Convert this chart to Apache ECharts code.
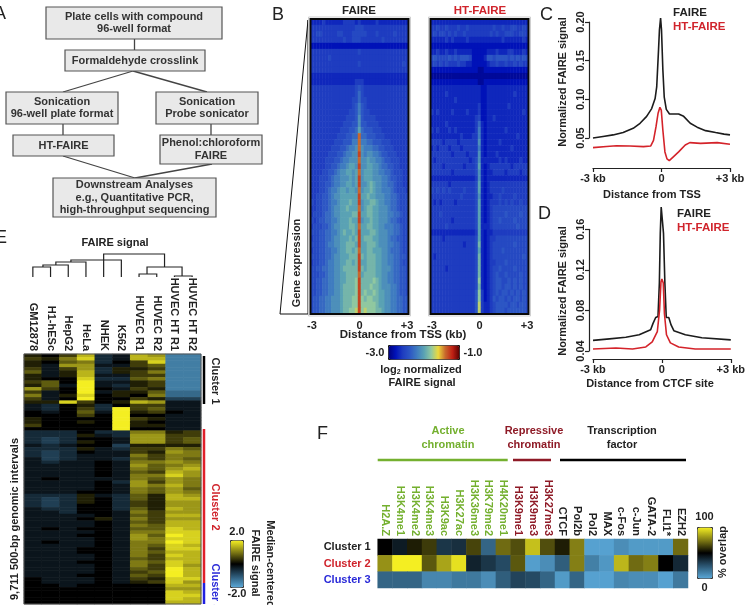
<!DOCTYPE html>
<html>
<head>
<meta charset="utf-8">
<title>FAIRE and HT-FAIRE signal</title>
<style>html,body{margin:0;padding:0;background:#fff;overflow:hidden}#chart{width:748px;height:605px}</style>
<script src="https://cdn.jsdelivr.net/npm/echarts@6/dist/echarts.min.js"></script>
</head>
<body>
<div id="chart"></div>
<script>
// Protocol flow steps
const flowSteps = [
  ['Plate cells with compound', '96-well format'],
  ['Formaldehyde crosslink'],
  ['Sonication', '96-well plate format'],
  ['Sonication', 'Probe sonicator'],
  ['HT-FAIRE'],
  ['Phenol:chloroform', 'FAIRE'],
  ['Downstream Analyses', 'e.g., Quantitative PCR,', 'high-throughput sequencing']
];

// Panel B: signal per gene row (most to least silent) and distance bin; 0..k = -3.0..-1.0 in 0.1 steps
const faireRows = [
  '3333433333344443 4 3333343333333333','4444444444444445 5 5444444444444444','4455444445544455 5 5544454444454444',
  '4444444444454455 5 4444444544444444','2222222222222222 2 2222222222222222','4444444444444444 5 4444444444444444',
  '4444445444444444 4 4444444444444444','4444444444444444 5 4444444444444454','4444444444444444 4 4444444444444444',
  '3333333333333333 3 3333333333333333','3333333333333334 4 4333333333333333','4444444444444445 6 5444444444444444',
  '4444444444444445 7 5444444444444444','4444444444444455 7 5544444444444444','4444444444444456 8 6544444444444444',
  '4444444444444556 8 6554444444444444','4444444444445556 9 6555544444444444','4444444444455566 9 6655554444444444',
  '4444444444555667 a 7666555444444444','4444444445556677 g 7766655544444444','4444444455566688 g 8877666555444444',
  '4444444555667889 g 9888776655544444','4444445556678899 h 9899887665554444','4444455566788999 g 99a9988766555444',
  '4444455667889aa9 h 99aa998776655444','444455667899aa9a g 9aaa998877655544','4445556788999a9a h 9aaa999887665544',
  '444556678899aa9a h 99aba99887765544','4445567889aa9aa9 g 9aaba99888765554','4455667899aaaaaa h aabaa99988776555',
  '5455667889aaabaa h 9aabba9988776555','4455667899aabaaa g 9abbaa9998776555','4555677899aaaabb h aabbaa9998877655',
  '5456677889aaabaa h 9aabaa9998776555','4555667899aaabba g aabbaa9988877655','5556677889abaaba h aaabba9998877655',
  '4556677899aaabab h abbbaa9998776655','5556678899aabbba h aabbba9998877655','4556677889aabbab g aabbaaa998777655',
  '5556677899aaabbb h babbbaa998877665','4556678899aabbab h aabbbaa998877655','5566778899abbbbb h babbbaa999877665',
  '5556678899aabbbb g abbbbaa998877665','5566778899aabbbc h bbbbcba998877665','5566778899abbbbc h bbbcbba999887665',
  '5566778899abbbbc h bcbbcbaa99887665','5667788999abbbcc h cbccbbaa99887766','5667788999abbbcc h cccccbaa99887766',
  '5667788999abbccd h cdcccbba99887766'
];
const htFaireRows = [
  '3333333333333333 3 3333333333333333','4454454445445444 4 4444544544554454','4545545454454444 4 4445454455544554',
  '3333343433334333 3 3333333433333343','2222222222222222 2 2222222222222222','3343343343333322 2 2233343334433343',
  '5655556565666522 2 2366566665656565','4545454445443322 2 2234454454454544','2222222222222222 1 1222222222222222',
  '1111111111111111 1 1111111111111111','2222222222222222 1 1222222222222222','3333333333333333 3 2233333333333333',
  '3333343333333333 3 2233333333343333','3333333343333333 3 2233333333333333','3333333333333333 4 2233333334333333',
  '4343333433334333 4 2233333333333343','3333333333333334 5 2233433333333333','3333343333333334 7 3233333333333333',
  '4343334343333334 8 3233333343333333','3333333333433344 8 3233333333334333','4444344443444444 9 3233334333333333',
  '3434443444344444 8 3233333333433333','4444444344443444 9 3233343333333333','4344444444444345 9 3333334343333433',
  '4444344444434445 a 3234444444344444','4444444344444445 9 3233444434444344','3333333333333334 9 3233333333333333',
  '4444443444444445 a 3234444444444444','5454545444454445 a 3234444544444444','4444444444544445 9 3233445444454444',
  '4343444434444445 a 3234445454544544','4444444444444445 a 3234555555555555','4445444444444445 a 3234555565555655',
  '4444444344444445 a 3234556555565555','4444454444444445 a 3334555555556555','3333333333333334 a 3233444444444444',
  '4444344444444445 a 3234455555555555','4444444444434445 b 3234555555565555','4444444444444445 a 3234555655555555',
  '4344444444444445 b 3234555555555565','4444444444444445 b 3234455565555555','4444434444444445 b 3234556555565555',
  '4444444444444445 b 3234565565555655','4444444444444445 c 3234566556565655','4444444444444445 b 3234566566565655',
  '4444444444444446 c 4234565665656565','4444444444444446 c 4234656656566565','4444444444444446 d 4334566665665665',
  '4444444444444446 d 4334566656666665'
];

// Panels C and D: [distance in kb, normalized signal]
const tssFaire = [[-3,.050],[-2.56,.052],[-2.12,.054],[-1.68,.057],[-1.24,.0625],[-.94,.069],[-.65,.078],[-.43,.088],[-.28,.101],[-.21,.116],[-.13,.164],[-.09,.19],[-.04,.205],[0,.19],[.06,.138],[.12,.103],[.21,.087],[.35,.081],[.53,.081],[.75,.081],[.97,.078],[1.26,.069],[1.56,.064],[1.93,.0595],[2.37,.057],[2.74,.055],[3,.054]];
const tssHtFaire = [[-3,.0375],[-2.41,.039],[-1.97,.04],[-1.38,.0397],[-.79,.0388],[-.47,.0397],[-.35,.047],[-.24,.0647],[-.15,.082],[-.07,.0897],[-.01,.086],[.06,.06],[.15,.032],[.24,.023],[.34,.0207],[.53,.026],[.75,.032],[1.04,.041],[1.24,.044],[1.71,.043],[2.44,.044],[3,.042]];
const ctcfFaire = [[-3,.0505],[-2.28,.052],[-1.57,.0535],[-.99,.056],[-.49,.061],[-.39,.067],[-.27,.073],[-.17,.074],[-.11,.107],[-.07,.156],[-.03,.182],[.02,.182],[.07,.156],[.13,.107],[.19,.073],[.3,.073],[.4,.0657],[.52,.06],[1.02,.056],[1.74,.053],[3,.051]];
const ctcfHtFaire = [[-3,.042],[-2,.043],[-1.28,.042],[-.7,.044],[-.42,.049],[-.2,.059],[-.1,.0805],[-.04,.108],[0,.111],[.06,.107],[.11,.077],[.2,.056],[.37,.048],[.73,.044],[1.45,.042],[3,.042]];

// Panel E: median-centered signal per interval; 0..g = -2.0..+2.0 in 0.25 steps, 8 is zero
const sampleNames = ['GM12878','H1-hESc','HepG2','HeLa','NHEK','K562','HUVEC R1','HUVEC R2','HUVEC HT R1','HUVEC HT R2'];
const intervalRows = [
  '98ae67ed22','a9cf67ee22','98bc68af22','97dd77ab22','a7ad699a22','b79e69ac22','979e77aa22','988f66bc22','ab8g779a22','9b7g769a22',
  'da8g87a922','a78g799b33','c79f898c33','a78g88a955','99fa89ed77','768968aa77','768a6gab77','878b7g9a87','888a8g8877','98888ga977',
  '98898g9877','a8888g9977','88888g8877','666866cc9a','666976ddaa','656887ddab','656987ddab','767885 9999','666976aacb','656877a9dc',
  '656777cacc','756776bacb','767787ccdc','777787dbcd','777787cbde','777787baed','777787ccfd','787777cbdc','777786dadc','777787dcec',
  '777787cbdb','777887cbdc','666976b9ed','656986b9ee','656986a9dd','656886a9dd','766886b9ed','776887cadd','777787baee','777897cadd',
  '777787baee','777787cbee','787887bbfe','777787ccff','777887dbgf','777787dcff','787787ccgf','777787cbfe','777887caff','777887cbee',
  '777787cafe','777787baee','777887cbfe','777787cafd','777787bage','777787abge','777887bage','877787a9ff','877787 9afd','887888 88ee',
  '888888 88dd','888888 88fe','888888 88ff','888888 88fe','888888 88ee'
];

// Panel F: % overlap of each cluster with each chromatin mark or factor
const clusterNames = ['Cluster 1', 'Cluster 2', 'Cluster 3'];
const activeMarks = ['H2A.Z','H3K4me1','H3K4me2','H3K4me3','H3K9ac','H3K27ac','H3K36me3','H3K79me2','H4K20me1'];
const repressiveMarks = ['H3K9me1','H3K9me3','H3K27me3'];
const factors = ['CTCF','Pol2b','Pol2','MAX','c-Fos','c-Jun','GATA-2','FLI1*','EZH2'];
const cluster1Overlap = [50,42,56,62,34,36,64,20,72,66,90,66,56,76,2,2,8,4,4,4,72];
const cluster2Overlap = [80,100,100,68,84,97,40,34,28,68,3,8,22,76,12,5,88,72,76,50,38];
const cluster3Overlap = [20,20,20,10,10,14,14,8,22,30,28,20,4,20,2,2,10,8,8,2,14];

// Dendrogram merges in leaf units: [x1, height1, x2, height2, joinHeight]
const dendrogramMerges = [
  [0.5,0,1.5,0,10],[1.07,10,2.5,0,12],[1.8,12,3.5,0,15],[4.5,0,5.5,0,17],[2.65,15,4.5,17,17],
  [6.5,0,7.5,0,3],[8.5,0,9.5,0,1],[6.95,3,8.93,1,10],[4.5,17,7.94,10,23]
];

const jetStops = ['#00007a','#0012b8','#1e3cc0','#2c56c4','#3f7cc0','#5aa2b4','#90c8a0','#ecd83c','#c8682c','#c02014','#5a0000'];
const blueYellowStops = ['#5aa8d8','#2a5470','#000000','#7f7a14','#f4ee22'];

const FONT = '"Liberation Sans", Arial, sans-serif';
const INK = '#222';
const RED = '#d0242c';
const BLUE = '#2a2ad8';
const GREEN = '#74b02f';
const MAROON = '#8e1a26';

function digitCells(rows, base, toValue) {
  const cells = [];
  rows.forEach((row, r) => {
    row.replace(/ /g, '').split('').forEach((ch, c) => cells.push([c, r, toValue(parseInt(ch, base))]));
  });
  return cells;
}
const tssValue = d => -3 + 0.1 * d;
const centeredValue = d => (d - 8) / 4;

const binLabels = Array.from({ length: 33 }, (_, i) => i === 0 ? '-3' : i === 16 ? '0' : i === 32 ? '+3' : '');
const rowIndex = rows => rows.map((_, i) => String(i));
const markNames = activeMarks.concat(repressiveMarks, factors);
const markColor = name => activeMarks.includes(name) ? GREEN : repressiveMarks.includes(name) ? MAROON : INK;
const clusterColor = name => ({ 'Cluster 1': INK, 'Cluster 2': RED, 'Cluster 3': BLUE })[name];

const overlapCells = [];
[cluster1Overlap, cluster2Overlap, cluster3Overlap].forEach((vals, r) => vals.forEach((v, c) => overlapCells.push([c, r, v])));

// Graphic helpers
function label(x, y, text, opt) {
  opt = opt || {};
  const style = {
    text, x: 0, y: 0, fill: opt.fill || INK, textAlign: opt.align || 'center', textVerticalAlign: 'middle',
    fontFamily: FONT, fontSize: opt.size || 11, fontWeight: opt.weight || 'bold'
  };
  if (opt.rich) style.rich = opt.rich;
  return { type: 'text', x, y, rotation: opt.rotation || 0, silent: true, z: 50, style };
}
const box = (x, y, w, h, style) => ({ type: 'rect', silent: true, z: style.z || 40, shape: { x, y, width: w, height: h }, style });
const seg = (x1, y1, x2, y2, stroke, w) => ({ type: 'line', silent: true, z: 40, shape: { x1, y1, x2, y2 }, style: { stroke, lineWidth: w } });

const graphics = [];

// Panel A flow chart
const boxLayout = [[46,7,176,32],[65,50,140,21],[6,92,112,32],[156,92,102,32],[13,135,101,21],[160,135,102,29],[53,178,163,39]];
[[134.5,39,134.5,50],[133,71,63,92],[133,71,207,92],[63,124,63,135],[211,124,211,135],[63,156,135,178],[212,164,135,178]]
  .forEach(l => graphics.push(seg(l[0], l[1], l[2], l[3], '#444', 1.3)));
boxLayout.forEach((b, i) => {
  graphics.push(box(b[0], b[1], b[2], b[3], { fill: '#e9e9e9', stroke: '#555', lineWidth: 1.2 }));
  const lines = flowSteps[i], step = 12.2, cy = b[1] + b[3] / 2;
  lines.forEach((t, k) => graphics.push(label(b[0] + b[2] / 2, cy + (k - (lines.length - 1) / 2) * step, t, { size: 11, fill: '#333' })));
});

// Panel letters
[['A',-6,14],['B',272,15],['C',540,15],['D',538,214],['E',-5,238],['F',317,434]].forEach(p =>
  graphics.push(label(p[1], p[2], p[0], { size: 18, weight: 'normal', align: 'left' })));

// Panel B annotations
graphics.push(label(359, 11, 'FAIRE', { size: 11.5 }));
graphics.push(label(480, 11, 'HT-FAIRE', { size: 11.5, fill: RED }));
[[310.5,19,98,295],[430.5,19,98,295]].forEach(r => {
  graphics.push(box(r[0] - 2, r[1] - 2, r[2] + 4, r[3] + 4, { fill: 'none', stroke: '#cfcfcf', lineWidth: 1, z: 60 }));
  graphics.push(box(r[0], r[1], r[2], r[3], { fill: 'none', stroke: '#0a0a0a', lineWidth: 2, z: 60 }));
});
graphics.push({ type: 'polygon', silent: true, z: 40, shape: { points: [[308,20],[280,314],[308,314]] }, style: { fill: '#fff', stroke: '#111', lineWidth: 1 } });
graphics.push(label(297, 263, 'Gene expression', { rotation: Math.PI / 2 }));
graphics.push(label(403, 335, 'Distance from TSS (kb)', { size: 11.5 }));
graphics.push(label(375, 352.5, '-3.0'));
graphics.push(label(473, 352.5, '-1.0'));
graphics.push(label(421, 370, 'log{sub|2} normalized', { rich: { sub: { fontFamily: FONT, fontSize: 7, fontWeight: 'bold', fill: INK, verticalAlign: 'bottom', padding: [5, 0, 0, 0] } } }));
graphics.push(label(422, 383, 'FAIRE signal'));

// Panels C and D annotations
graphics.push(label(673, 13, 'FAIRE', { align: 'left', size: 11.5 }));
graphics.push(label(673, 27, 'HT-FAIRE', { align: 'left', size: 11.5, fill: RED }));
graphics.push(label(563, 82, 'Normalized FAIRE signal', { rotation: Math.PI / 2 }));
graphics.push(label(652, 195, 'Distance from TSS'));
graphics.push(label(677, 214, 'FAIRE', { align: 'left', size: 11.5 }));
graphics.push(label(677, 228, 'HT-FAIRE', { align: 'left', size: 11.5, fill: RED }));
graphics.push(label(563, 291, 'Normalized FAIRE signal', { rotation: Math.PI / 2 }));
graphics.push(label(650, 384, 'Distance from CTCF site'));

// Panel E annotations
graphics.push(label(115, 243, 'FAIRE signal'));
graphics.push(label(15, 519, '9,711 500-bp genomic intervals', { rotation: Math.PI / 2 }));
graphics.push(box(24, 354, 177, 250, { fill: 'none', stroke: '#555', lineWidth: 1, z: 60 }));
graphics.push(seg(204, 356, 204, 404, '#000', 2.5));
graphics.push(seg(204, 429, 204, 583, '#e0202a', 2.5));
graphics.push(seg(204, 583, 204, 604, '#2020e0', 2.5));
graphics.push(label(215, 381, 'Cluster 1', { rotation: -Math.PI / 2 }));
graphics.push(label(215, 507, 'Cluster 2', { rotation: -Math.PI / 2, fill: RED }));
graphics.push(label(215, 587, 'Cluster 3', { rotation: -Math.PI / 2, fill: BLUE }));
graphics.push(label(237, 532, '2.0'));
graphics.push(label(237, 594, '-2.0'));
graphics.push(label(255, 563, 'FAIRE signal', { rotation: -Math.PI / 2 }));
graphics.push(label(270, 564, 'Median-centered', { rotation: -Math.PI / 2 }));

// Panel F annotations
graphics.push(label(448, 431, 'Active', { fill: GREEN }));
graphics.push(label(448, 445, 'chromatin', { fill: GREEN }));
graphics.push(label(534, 431, 'Repressive', { fill: MAROON }));
graphics.push(label(534, 445, 'chromatin', { fill: MAROON }));
graphics.push(label(622, 431, 'Transcription'));
graphics.push(label(622, 445, 'factor'));
graphics.push(seg(377.7, 460, 507.7, 460, GREEN, 2.5));
graphics.push(seg(513, 460, 551, 460, MAROON, 2.5));
graphics.push(seg(560, 460, 686, 460, '#000', 2.5));
graphics.push(label(704.5, 517, '100'));
graphics.push(label(704.5, 588, '0'));
graphics.push(label(723, 552, '% overlap', { rotation: Math.PI / 2 }));

// Axis builders
function hiddenCategory(data, extra) {
  return Object.assign({ type: 'category', data, axisLine: { show: false }, axisTick: { show: false }, axisLabel: { show: false }, splitLine: { show: false } }, extra || {});
}
const boldLabel = { fontFamily: FONT, fontWeight: 'bold', fontSize: 11, color: INK };
function kbAxis(gridIndex, offset) {
  return {
    type: 'value', gridIndex, min: -3, max: 3, interval: 3, position: 'bottom', offset,
    axisLine: { onZero: false, show: true, lineStyle: { color: INK, width: 1.2 } },
    axisTick: { show: true, length: 4, lineStyle: { color: INK, width: 1.2 } },
    splitLine: { show: false },
    axisLabel: Object.assign({}, boldLabel, { margin: 5, showMinLabel: true, showMaxLabel: true, formatter: v => v === 0 ? '0' : (v > 0 ? '+' : '') + v + ' kb' })
  };
}
function signalAxis(gridIndex, min, max, interval) {
  return {
    type: 'value', gridIndex, min, max, interval, position: 'left', offset: 4,
    axisLine: { onZero: false, show: true, lineStyle: { color: INK, width: 1.2 } },
    axisTick: { show: true, length: 4, lineStyle: { color: INK, width: 1.2 } },
    splitLine: { show: false },
    axisLabel: Object.assign({}, boldLabel, { rotate: 90, margin: 3, formatter: v => v.toFixed(2) })
  };
}
function binAxis(gridIndex) {
  return hiddenCategory(binLabels, {
    gridIndex,
    axisLabel: Object.assign({}, boldLabel, { show: true, margin: 6, interval: 0, formatter: v => v })
  });
}
function curve(name, data, color, xAxisIndex, yAxisIndex) {
  return { name, type: 'line', data, xAxisIndex, yAxisIndex, showSymbol: false, clip: false, silent: true, lineStyle: { color, width: 1.6 }, itemStyle: { color }, animation: false };
}
function heat(data, xAxisIndex, yAxisIndex) {
  return { type: 'heatmap', data, xAxisIndex, yAxisIndex, progressive: 0, silent: true, animation: false };
}

const option = {
  animation: false,
  backgroundColor: '#fff',
  textStyle: { fontFamily: FONT },
  grid: [
    { left: 310.5, top: 19, width: 98, height: 295 },   // B FAIRE
    { left: 430.5, top: 19, width: 98, height: 295 },   // B HT-FAIRE
    { left: 593, top: 22, width: 137, height: 116 },    // C
    { left: 593, top: 229.3, width: 139, height: 121.7 }, // D
    { left: 24, top: 354, width: 177, height: 250 },    // E
    { left: 377.7, top: 539, width: 310.3, height: 49 }, // F
    { left: 24, top: 247, width: 177, height: 30 }      // E dendrogram
  ],
  xAxis: [
    binAxis(0), binAxis(1),
    kbAxis(2, 30), kbAxis(3, 8),
    hiddenCategory(sampleNames, { gridIndex: 4, position: 'top', axisLabel: Object.assign({}, boldLabel, { show: true, rotate: 90, margin: 3, interval: 0 }) }),
    hiddenCategory(markNames, { gridIndex: 5, position: 'top', axisLabel: { show: true, rotate: 90, margin: 3, interval: 0, fontFamily: FONT, fontWeight: 'bold', fontSize: 11, color: markColor } }),
    { type: 'value', gridIndex: 6, min: 0, max: 10, show: false }
  ],
  yAxis: [
    hiddenCategory(rowIndex(faireRows), { gridIndex: 0, inverse: true }),
    hiddenCategory(rowIndex(htFaireRows), { gridIndex: 1, inverse: true }),
    signalAxis(2, 0.05, 0.20, 0.05),
    signalAxis(3, 0.04, 0.16, 0.04),
    hiddenCategory(rowIndex(intervalRows), { gridIndex: 4, inverse: true }),
    hiddenCategory(clusterNames, { gridIndex: 5, inverse: true, axisLabel: { show: true, margin: 7, fontFamily: FONT, fontWeight: 'bold', fontSize: 11, color: clusterColor } }),
    { type: 'value', gridIndex: 6, min: 0, max: 30, show: false }
  ],
  visualMap: [
    { type: 'continuous', seriesIndex: [0, 1], min: -3, max: -1, orient: 'horizontal', left: 388, top: 345, itemWidth: 14, itemHeight: 71, padding: 0, calculable: false, text: null, showLabel: false, borderColor: '#111', borderWidth: 1, inRange: { color: jetStops } },
    { type: 'continuous', seriesIndex: 6, min: -2, max: 2, orient: 'vertical', left: 230, top: 540, itemWidth: 13, itemHeight: 47, padding: 0, calculable: false, borderColor: '#333', borderWidth: 1, inRange: { color: blueYellowStops } },
    { type: 'continuous', seriesIndex: 7, min: 0, max: 100, orient: 'vertical', left: 697, top: 527, itemWidth: 15, itemHeight: 51, padding: 0, calculable: false, borderColor: '#333', borderWidth: 1, inRange: { color: blueYellowStops } }
  ],
  series: [
    heat(digitCells(faireRows, 21, tssValue), 0, 0),
    heat(digitCells(htFaireRows, 21, tssValue), 1, 1),
    curve('FAIRE', tssFaire, '#1c1c1c', 2, 2),
    curve('HT-FAIRE', tssHtFaire, '#d4232a', 2, 2),
    curve('FAIRE', ctcfFaire, '#1c1c1c', 3, 3),
    curve('HT-FAIRE', ctcfHtFaire, '#d4232a', 3, 3),
    heat(digitCells(intervalRows, 17, centeredValue), 4, 4),
    heat(overlapCells, 5, 5),
    {
      type: 'custom', xAxisIndex: 6, yAxisIndex: 6, silent: true, clip: false, animation: false,
      data: dendrogramMerges,
      encode: { x: [0, 2], y: [1, 3, 4] },
      renderItem(params, api) {
        const a = api.coord([api.value(0), api.value(1)]);
        const b = api.coord([api.value(0), api.value(4)]);
        const c = api.coord([api.value(2), api.value(4)]);
        const d = api.coord([api.value(2), api.value(3)]);
        return { type: 'polyline', shape: { points: [a, b, c, d] }, style: { stroke: '#222', lineWidth: 1.2, fill: null } };
      }
    }
  ],
  graphic: graphics
};

const chart = echarts.init(document.getElementById('chart'), null, { renderer: 'canvas', width: 748, height: 605 });
chart.setOption(option);
</script>
</body>
</html>
